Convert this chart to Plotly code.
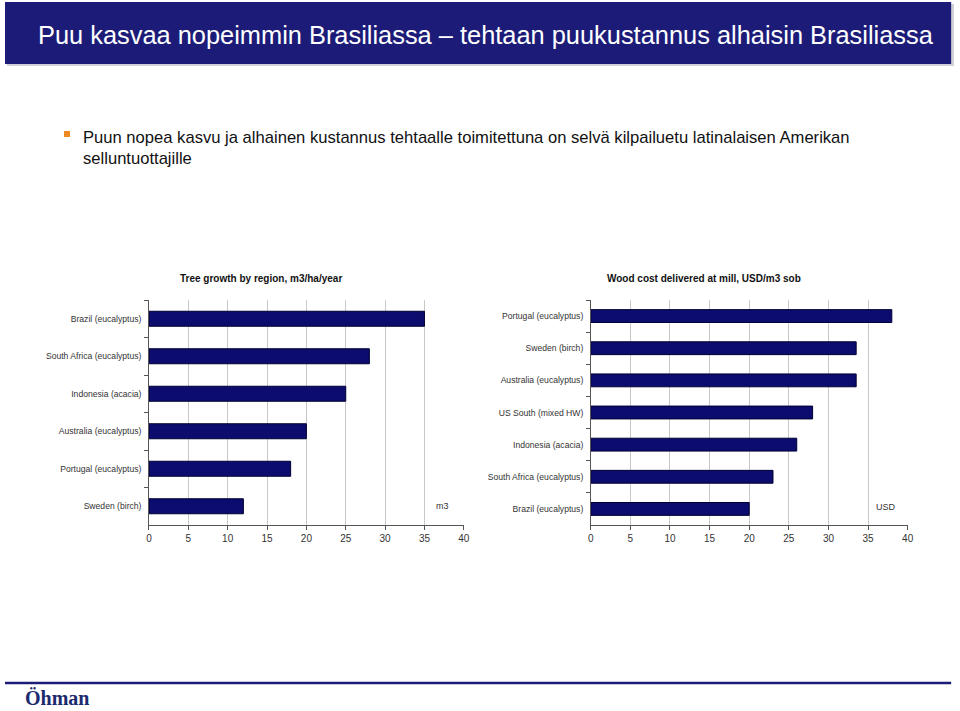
import plotly.graph_objects as go

# ---- data ----
growth_regions = ["Brazil (eucalyptus)", "South Africa (eucalyptus)", "Indonesia (acacia)",
                  "Australia (eucalyptus)", "Portugal (eucalyptus)", "Sweden (birch)"]
growth_values = [35, 28, 25, 20, 18, 12]

cost_regions = ["Portugal (eucalyptus)", "Sweden (birch)", "Australia (eucalyptus)",
                "US South (mixed HW)", "Indonesia (acacia)", "South Africa (eucalyptus)",
                "Brazil (eucalyptus)"]
cost_values = [38, 33.5, 33.5, 28, 26, 23, 20]

x_ticks = [0, 5, 10, 15, 20, 25, 30, 35, 40]

W, H = 960, 711
def py(y):
    return 1 - y / H
def px(x):
    return ((x - 2.0) / 0.991) / W

SANS = "Liberation Sans, Arial"
NAVY = "#0c0c6e"
fig = go.Figure()
fig.add_trace(go.Bar(x=growth_values, y=growth_regions, orientation="h",
                     marker=dict(color=NAVY, line=dict(color="#000033", width=1)),
                     xaxis="x", yaxis="y", showlegend=False))
fig.add_trace(go.Bar(x=cost_values, y=cost_regions, orientation="h",
                     marker=dict(color=NAVY, line=dict(color="#000033", width=1)),
                     xaxis="x2", yaxis="y2", showlegend=False))

tickfont = dict(family=SANS, size=8.6, color="#333333")
xcommon = dict(range=[0, 40], tickvals=x_ticks, ticks="outside", ticklen=4, tickcolor="#555",
               showline=True, linecolor="#555", linewidth=1, showgrid=True, gridcolor="#c8c8c8",
               gridwidth=1, zeroline=False, tickfont=dict(family=SANS, size=10, color="#333"),
               fixedrange=True)
ycommon = dict(type="category", autorange="reversed", ticks="outside", ticklen=4, tickcolor="#555",
               tickson="boundaries", showline=True, linecolor="#555", linewidth=1, showgrid=False,
               tickfont=tickfont, ticksuffix="  ", fixedrange=True)

ytop, ybot = py(300), py(525)
fig.update_layout(
    width=W, height=H, margin=dict(l=0, r=0, t=0, b=0),
    paper_bgcolor="white", plot_bgcolor="white", bargap=0.6,
    xaxis=dict(domain=[px(148), px(463)], anchor="y", **xcommon),
    yaxis=dict(domain=[ybot, ytop], anchor="x", **ycommon),
    xaxis2=dict(domain=[px(590), px(907)], anchor="y2", **xcommon),
    yaxis2=dict(domain=[ybot, ytop], anchor="x2", **ycommon),
)

shapes = [
    dict(type="rect", xref="paper", yref="paper", x0=px(6), x1=1.0, y0=py(66), y1=py(4),
         fillcolor="#d0d0d8", line=dict(width=0), layer="below"),
    dict(type="rect", xref="paper", yref="paper", x0=px(4), x1=min(px(956), 0.997), y0=py(64), y1=py(2),
         fillcolor="#1c1c78", line=dict(width=0), layer="below"),
    dict(type="rect", xref="paper", yref="paper", x0=px(63), x1=px(69), y0=py(137), y1=py(131),
         fillcolor="#f08a24", line=dict(width=0)),
    dict(type="line", xref="paper", yref="paper", x0=px(4), x1=min(px(956), 0.997), y0=py(683), y1=py(683),
         line=dict(color="#1c1c78", width=2.5)),
]
fig.update_layout(shapes=shapes)

ann = [
    dict(text="Puu kasvaa nopeimmin Brasiliassa – tehtaan puukustannus alhaisin Brasiliassa",
         x=px(35), y=py(35), xanchor="left", yanchor="middle",
         font=dict(family=SANS, size=25.4, color="white")),
    dict(text="Puun nopea kasvu ja alhainen kustannus tehtaalle toimitettuna on selvä kilpailuetu latinalaisen Amerikan",
         x=px(80), y=py(137), xanchor="left", yanchor="middle",
         font=dict(family=SANS, size=16.6, color="#111")),
    dict(text="selluntuottajille", x=px(80), y=py(158), xanchor="left", yanchor="middle",
         font=dict(family=SANS, size=16.6, color="#111")),
    dict(text="<b>Tree growth by region, m3/ha/year</b>", x=px(260), y=py(278),
         xanchor="center", yanchor="middle",
         font=dict(family=SANS, size=10, color="#111")),
    dict(text="<b>Wood cost delivered at mill, USD/m3 sob</b>", x=px(703), y=py(278),
         xanchor="center", yanchor="middle",
         font=dict(family=SANS, size=10, color="#111")),
    dict(text="m3", xref="x", yref="y", x=37.3, y=growth_regions[-1], xanchor="center",
         yanchor="middle", showarrow=False, font=dict(family=SANS, size=9, color="#333")),
    dict(text="USD", xref="x2", yref="y2", x=37.3, y=cost_regions[-1], xanchor="center",
         yanchor="middle", yshift=2, showarrow=False, font=dict(family=SANS, size=9, color="#333")),
    dict(text="<b>Öhman</b>", x=px(22), y=py(698), xanchor="left", yanchor="middle",
         font=dict(family="Liberation Serif, Times New Roman", size=20, color="#1c2a6e")),
]
for a in ann:
    a.setdefault("xref", "paper")
    a.setdefault("yref", "paper")
    a.setdefault("showarrow", False)
fig.update_layout(annotations=ann)

fig.write_html(
    "out.html",
    config={"displayModeBar": False},
    post_script="document.body.style.margin='0';document.body.style.overflow='hidden';"
                "document.documentElement.style.overflow='hidden';",
)
